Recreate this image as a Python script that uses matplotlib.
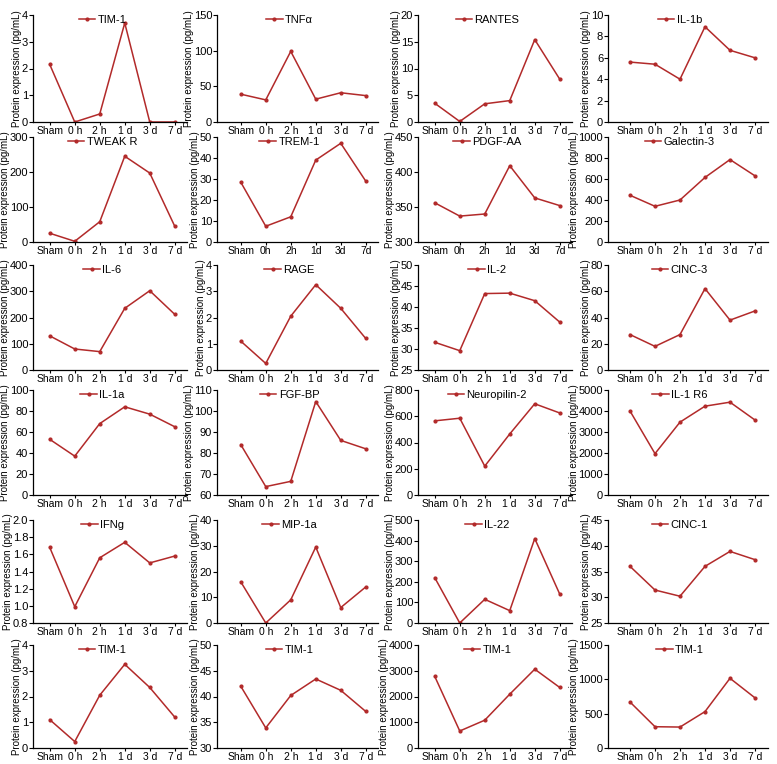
import matplotlib
matplotlib.use('Agg')
import matplotlib.pyplot as plt

plt.rcParams['font.family'] = ['Liberation Sans', 'DejaVu Sans']

times = ['Sham', '0 h', '2 h', '1 d', '3 d', '7 d']
times_nospace = ['Sham', '0h', '2h', '1d', '3d', '7d']

names = ['TIM-1', 'TNF\u03b1', 'RANTES', 'IL-1b',
         'TWEAK R', 'TREM-1', 'PDGF-AA', 'Galectin-3',
         'IL-6', 'RAGE', 'IL-2', 'CINC-3',
         'IL-1a', 'FGF-BP', 'Neuropilin-2', 'IL-1 R6',
         'IFNg', 'MIP-1a', 'IL-22', 'CINC-1',
         'TIM-1', 'TIM-1', 'TIM-1', 'TIM-1']

values = [
    [2.15, 0, 0.3, 3.7, 0, 0],
    [39, 31, 99, 32, 41, 37],
    [3.5, 0.1, 3.4, 4.0, 15.4, 8.0],
    [5.6, 5.4, 4.0, 8.9, 6.7, 6.0],
    [25, 2, 58, 245, 197, 45],
    [28.5, 7.5, 12, 39, 47, 29],
    [356, 337, 340, 409, 363, 352],
    [445, 340, 400, 615, 785, 630],
    [130, 80, 70, 235, 302, 212],
    [1.1, 0.25, 2.05, 3.25, 2.35, 1.2],
    [31.6, 29.6, 43.2, 43.3, 41.5, 36.4],
    [27, 18, 27, 62, 38, 45],
    [53, 37, 68, 84, 77, 65],
    [84, 64, 66.5, 104.5, 86, 82],
    [565, 585, 220, 465, 695, 625],
    [4000, 1970, 3470, 4230, 4420, 3570],
    [1.68, 0.99, 1.56, 1.74, 1.50, 1.58],
    [16, 0, 9, 29.5, 6, 14],
    [220, 0, 115, 60, 410, 140],
    [36, 31.4, 30.2, 36, 38.9, 37.3],
    [1.1, 0.25, 2.05, 3.25, 2.35, 1.2],
    [42, 33.9, 40.2, 43.4, 41.2, 37.1],
    [2780, 660, 1080, 2090, 3060, 2350],
    [670, 310, 305, 530, 1015, 730],
]

# (ymin, ymax, step)
yranges = [
    (0, 4, 1), (0, 150, 50), (0, 20, 5), (0, 10, 2),
    (0, 300, 100), (0, 50, 10), (300, 450, 50), (0, 1000, 200),
    (0, 400, 100), (0, 4, 1), (25, 50, 5), (0, 80, 20),
    (0, 100, 20), (60, 110, 10), (0, 800, 200), (0, 5000, 1000),
    (0.8, 2.0, 0.2), (0, 40, 10), (0, 500, 100), (25, 45, 5),
    (0, 4, 1), (30, 50, 5), (0, 4000, 1000), (0, 1500, 500),
]

W, H = 777, 764
col_left = [33, 217, 418, 608]
col_off = [0.67, 0.95, 0.67, 0.88]
row_top = [15, 137, 265, 390, 520, 645]
row_h = [107, 105, 105, 105, 103, 103]
spacing = 25.0
color = '#b22a2a'

fig = plt.figure(figsize=(W / 100, H / 100), dpi=100)

for i, name in enumerate(names):
    r, c = divmod(i, 4)
    wpx = (5.5 + col_off[c]) * spacing
    ax = fig.add_axes([col_left[c] / W, 1 - (row_top[r] + row_h[r]) / H,
                       wpx / W, row_h[r] / H])
    ax.plot(range(6), values[i], color=color, lw=1.1, marker='o', ms=2,
            label=name)
    ymin, ymax, step = yranges[i]
    ax.set_ylim(ymin, ymax)
    n = int(round((ymax - ymin) / step))
    ticks = [ymin + k * step for k in range(n + 1)]
    ax.set_yticks(ticks)
    if step < 1:
        ax.set_yticklabels(['%.1f' % t for t in ticks])
    ax.set_xlim(-col_off[c], 5.5)
    ax.set_xticks(range(6))
    labs = times_nospace if i in (5, 6) else times
    ax.set_xticklabels(labs, fontsize=7.5)
    ax.tick_params(axis='y', labelsize=8, length=3, width=0.8, pad=0.5)
    ax.tick_params(axis='x', length=2, width=0.8, pad=1)
    for s in ('top', 'right'):
        ax.spines[s].set_visible(False)
    for s in ('left', 'bottom'):
        ax.spines[s].set_linewidth(0.9)
    ax.set_ylabel('Protein expression (pg/mL)', fontsize=7, labelpad=0)
    ax.legend(loc='upper center', bbox_to_anchor=(0.45, 1.04), frameon=False,
              fontsize=8, handlelength=1.5, handletextpad=0.2,
              borderaxespad=0)

fig.savefig('out.png', dpi=100)
